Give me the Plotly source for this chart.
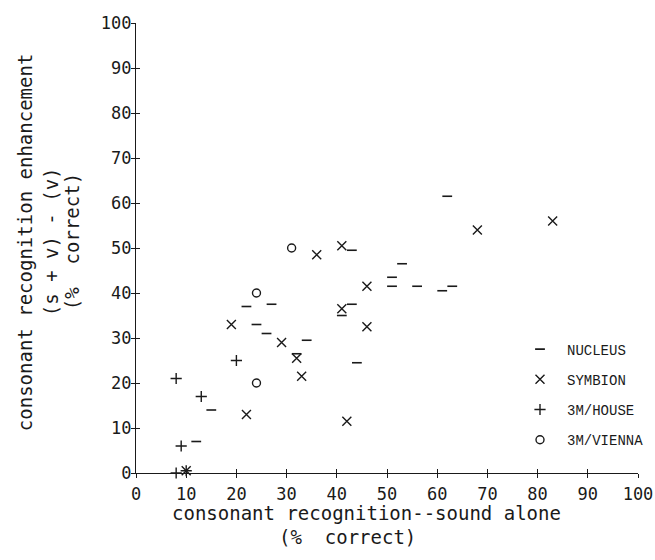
import plotly.graph_objects as go

# ---- data ----
nucleus_x = [43, 22, 27, 43, 41, 24, 26, 34, 32, 44, 15, 12, 62, 53, 51, 51, 56, 61, 63]
nucleus_y = [49.5, 37, 37.5, 37.5, 35, 33, 31, 29.5, 26.5, 24.5, 14, 7, 61.5, 46.5, 43.5, 41.5, 41.5, 40.5, 41.5]

symbion_x = [36, 41, 46, 41, 19, 46, 29, 32, 33, 22, 42, 68, 83, 10]
symbion_y = [48.5, 50.5, 41.5, 36.5, 33, 32.5, 29, 25.5, 21.5, 13, 11.5, 54, 56, 0.5]

house_x = [20, 8, 13, 9, 8, 10]
house_y = [25, 21, 17, 6, 0, 0.5]

vienna_x = [31, 24, 24]
vienna_y = [50, 40, 20]

tick_vals = [0, 10, 20, 30, 40, 50, 60, 70, 80, 90, 100]
tick_text = ["0", "10", "20", "30", "40", "50", "60", "70", "80", "90", "100"]

series_names = ["NUCLEUS", "SYMBION", "3M/HOUSE", "3M/VIENNA"]

INK = "#1a1a1a"
MONO = "DejaVu Sans Mono"

fig = go.Figure()

fig.add_trace(go.Scatter(
    x=nucleus_x, y=nucleus_y, mode="markers", name=series_names[0], legendgroup="a",
    marker=dict(symbol="line-ew", size=7, line=dict(width=1.6, color=INK), color=INK),
    cliponaxis=False))
fig.add_trace(go.Scatter(
    x=symbion_x, y=symbion_y, mode="markers", name=series_names[1], legendgroup="b",
    marker=dict(symbol="x-thin", size=9, line=dict(width=1.4, color=INK), color=INK),
    cliponaxis=False))
fig.add_trace(go.Scatter(
    x=house_x, y=house_y, mode="markers", name=series_names[2], legendgroup="c",
    marker=dict(symbol="cross-thin", size=8, line=dict(width=1.4, color=INK), color=INK),
    cliponaxis=False))
fig.add_trace(go.Scatter(
    x=vienna_x, y=vienna_y, mode="markers", name=series_names[3], legendgroup="d",
    marker=dict(symbol="circle-open", size=8, line=dict(width=1.4, color=INK), color=INK),
    cliponaxis=False))

# invisible helper trace on overlay axes to get inside ticks (crossing ticks)
fig.add_trace(go.Scatter(x=[0, 100], y=[0, 100], xaxis="x2", yaxis="y2",
                         mode="markers", marker=dict(opacity=0), showlegend=False,
                         hoverinfo="skip"))

axis_common = dict(range=[0, 100], tickvals=tick_vals, ticktext=tick_text,
                   showgrid=False, zeroline=False, showline=True,
                   linecolor=INK, linewidth=1.2, ticks="outside", ticklen=4,
                   tickcolor=INK, tickwidth=1.2,
                   tickfont=dict(family=MONO, size=17, color=INK))

fig.update_layout(
    width=655, height=560,
    paper_bgcolor="white", plot_bgcolor="white",
    margin=dict(l=136, r=17, t=23, b=87, autoexpand=False),
    xaxis=dict(**axis_common, ticklabelstandoff=1),
    yaxis=dict(**axis_common, ticklabelstandoff=-4),
    xaxis2=dict(range=[0, 100], tickvals=tick_vals, overlaying="x", showticklabels=False,
                showgrid=False, zeroline=False, showline=False, ticks="inside",
                ticklen=4, tickcolor=INK, tickwidth=1.2, side="bottom"),
    yaxis2=dict(range=[0, 100], tickvals=tick_vals, overlaying="y", showticklabels=False,
                showgrid=False, zeroline=False, showline=False, ticks="inside",
                ticklen=4, tickcolor=INK, tickwidth=1.2, side="left"),
    showlegend=True,
    legend=dict(x=0.751, y=0.31, xanchor="left", yanchor="top",
                font=dict(family="Liberation Mono", size=14, color=INK),
                traceorder="grouped", tracegroupgap=9, itemwidth=44,
                bgcolor="rgba(0,0,0,0)"),
)

ann_font = dict(family=MONO, size=19, color=INK)
fig.add_annotation(text="consonant recognition--sound alone", xref="paper", yref="paper",
                   x=0.46, y=-0.088, xanchor="center", yanchor="middle",
                   showarrow=False, font=ann_font)
fig.add_annotation(text="(%  correct)", xref="paper", yref="paper",
                   x=0.422, y=-0.142, xanchor="center", yanchor="middle",
                   showarrow=False, font=ann_font)
for txt, px in [("consonant recognition enhancement", 25),
                ("(s + v) - (v)", 51),
                ("(%  correct)", 72)]:
    fig.add_annotation(text=txt, xref="paper", yref="paper",
                       x=(px - 136) / 502, y=0.513, xanchor="center", yanchor="middle",
                       textangle=-90, showarrow=False, font=ann_font)

fig.write_html("out.html", config={"displayModeBar": False},
               post_script="document.body.style.margin='0px';document.body.style.overflow='hidden';")
